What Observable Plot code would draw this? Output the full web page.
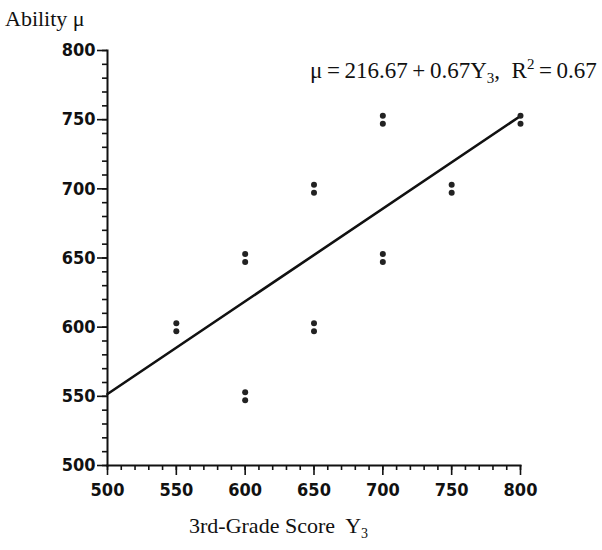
<!DOCTYPE html>
<html><head><meta charset="utf-8">
<script src="https://cdn.jsdelivr.net/npm/d3@7"></script>
<script src="https://cdn.jsdelivr.net/npm/@observablehq/plot@0.6"></script>
<style>
body{margin:0;background:#fff;}
#chart svg{display:block;}
</style></head>
<body><div id="chart"></div>
<script>
const scores = [550, 600, 600, 650, 650, 700, 700, 750, 800];
const ability = [600, 650, 550, 700, 600, 750, 650, 700, 750];
const intercept = 216.67;
const slope = 0.67;
const rSquared = 0.67;
const xTicks = [500, 550, 600, 650, 700, 750, 800];
const yTicks = [500, 550, 600, 650, 700, 750, 800];
const yLabel = "Ability μ";
const xLabel = "3rd-Grade Score";

const pts = scores.map((s, i) => ({x: s, y: ability[i]}));
const fitLine = [500, 800].map(x => ({x, y: intercept + slope * x}));
const minor = d3.range(500, 801, 10);
const tickFont = "'Liberation Sans Narrow','Arial Narrow','DejaVu Sans Condensed',sans-serif";

const plot = Plot.plot({
  width: 602, height: 550,
  marginLeft: 107, marginRight: 82, marginTop: 50, marginBottom: 85,
  style: {background: "#fff", color: "#111"},
  x: {domain: [500, 800]},
  y: {domain: [500, 800]},
  marks: [
    Plot.axisX({ticks: minor, tickSize: 5, tickFormat: () => "", label: null, strokeWidth: 1.6}),
    Plot.axisX({ticks: xTicks, tickSize: 10, tickPadding: 8, label: null, strokeWidth: 1.6,
      fontSize: 18, fontWeight: "bold", fontFamily: tickFont}),
    Plot.axisY({ticks: minor, tickSize: 5, tickFormat: () => "", label: null, strokeWidth: 1.6}),
    Plot.axisY({ticks: yTicks, tickSize: 10, tickPadding: 2, label: null, strokeWidth: 1.6,
      fontSize: 18, fontWeight: "bold", fontFamily: tickFont}),
    Plot.frame({anchor: "bottom", strokeWidth: 2}),
    Plot.frame({anchor: "left", strokeWidth: 2}),
    Plot.line(fitLine, {x: "x", y: "y", stroke: "#111", strokeWidth: 2.6}),
    Plot.dot(pts, {x: "x", y: "y", dy: -4, r: 3, fill: "#222", stroke: "none"}),
    Plot.dot(pts, {x: "x", y: "y", dy: 4, r: 3, fill: "#222", stroke: "none"})
  ]
});
document.getElementById("chart").appendChild(plot);

const svg = d3.select(plot);
const serif = "'Liberation Serif','Times New Roman',serif";
const addText = (x, y, size) => svg.append("text").attr("x", x).attr("y", y)
  .attr("text-anchor", "start").attr("font-family", serif)
  .attr("font-size", size).attr("fill", "#111");

addText(5, 26, 22).text(yLabel);

const eq = addText(310, 78, 23);
eq.append("tspan").text(`μ\u2009=\u2009${intercept}\u2009+\u2009${slope}Y`);
eq.append("tspan").attr("font-size", 15).attr("dy", 5).text("3");
eq.append("tspan").attr("dy", -5).text(",  R");
eq.append("tspan").attr("font-size", 15).attr("dy", -9).text("2");
eq.append("tspan").attr("dy", 9).text(`\u2009=\u2009${rSquared}`);

const xl = addText(189, 533, 22);
xl.append("tspan").text(xLabel + "  Y");
xl.append("tspan").attr("font-size", 14).attr("dy", 5).text("3");
</script></body></html>
